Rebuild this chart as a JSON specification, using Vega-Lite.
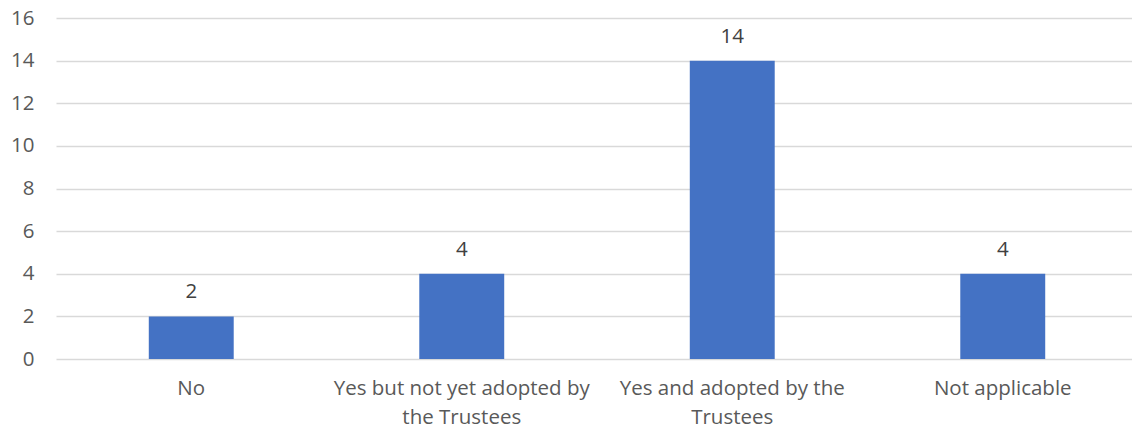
{
  "$schema": "https://vega.github.io/schema/vega-lite/v6.json",
  "autosize": "none",
  "width": 1082,
  "height": 341,
  "padding": {"left": 56, "top": 18, "right": 0, "bottom": 73},
  "background": "white",
  "config": {"view": {"stroke": null}, "font": "Open Sans"},
  "data": {
    "values": [
      {"category": "No", "count": 2},
      {"category": "Yes but not yet adopted by the Trustees", "count": 4},
      {"category": "Yes and adopted by the Trustees", "count": 14},
      {"category": "Not applicable", "count": 4}
    ]
  },
  "encoding": {
    "x": {
      "field": "category",
      "type": "nominal",
      "sort": null,
      "scale": {"paddingInner": 0.686, "paddingOuter": 0.343},
      "axis": {
        "title": null,
        "labelAngle": 0,
        "domain": false,
        "ticks": false,
        "labelFont": "Open Sans",
        "labelFontSize": 20.5,
        "labelColor": "#595959",
        "labelPadding": 19,
        "labelLineHeight": 29,
        "labelLimit": 400,
        "labelExpr": "datum.value == 'Yes but not yet adopted by the Trustees' ? ['Yes but not yet adopted by', 'the Trustees'] : datum.value == 'Yes and adopted by the Trustees' ? ['Yes and adopted by the', 'Trustees'] : datum.value"
      }
    },
    "y": {
      "field": "count",
      "type": "quantitative",
      "scale": {"domain": [0, 16]},
      "axis": {
        "title": null,
        "values": [0, 2, 4, 6, 8, 10, 12, 14, 16],
        "domain": false,
        "ticks": false,
        "grid": true,
        "gridColor": "#d9d9d9",
        "gridWidth": 1.5,
        "labelFont": "Open Sans",
        "labelFontSize": 20.5,
        "labelColor": "#595959",
        "labelPadding": 22
      }
    }
  },
  "layer": [
    {"mark": {"type": "bar", "color": "#4472C4"}},
    {
      "mark": {"type": "text", "dy": -24, "fontSize": 20.5, "color": "#404040", "font": "Open Sans"},
      "encoding": {"text": {"field": "count", "type": "quantitative"}}
    }
  ]
}
